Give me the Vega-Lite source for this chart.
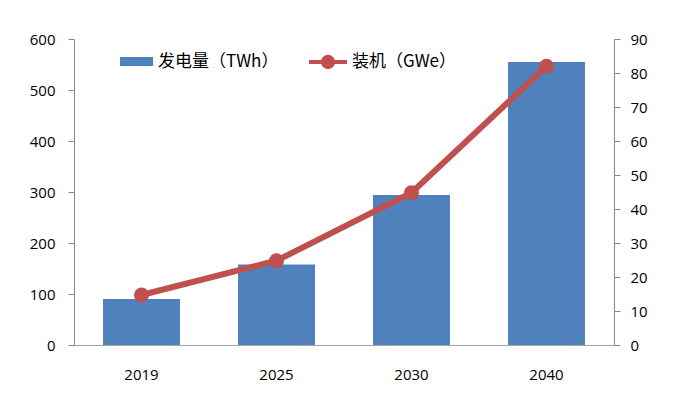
{
  "$schema": "https://vega.github.io/schema/vega-lite/v6.json",
  "width": 540,
  "height": 306,
  "autosize": {"type": "none"},
  "padding": {"left": 74, "top": 39, "right": 61, "bottom": 65},
  "background": "white",
  "config": {
    "view": {"stroke": null},
    "axis": {
      "labelFont": "Open Sans",
      "labelFontSize": 15,
      "labelColor": "#000000",
      "domainColor": "#868686",
      "tickColor": "#868686",
      "grid": false,
      "title": null
    },
    "legend": {
      "labelFont": "Noto Sans CJK SC",
      "labelFontSize": 17,
      "labelColor": "#000000",
      "title": null
    }
  },
  "data": {
    "values": [
      {"year": "2019", "gen": 90, "cap": 14.7},
      {"year": "2025", "gen": 158, "cap": 24.8},
      {"year": "2030", "gen": 294, "cap": 44.8},
      {"year": "2040", "gen": 555, "cap": 82}
    ]
  },
  "encoding": {
    "x": {
      "field": "year",
      "type": "ordinal",
      "scale": {"paddingInner": 0.43, "paddingOuter": 0.215},
      "axis": {"labelAngle": 0, "ticks": false, "labelPadding": 22, "domainColor": "#A6A6A6"}
    }
  },
  "layer": [
    {
      "mark": {"type": "bar", "color": "#4F81BD"},
      "encoding": {
        "y": {
          "field": "gen",
          "type": "quantitative",
          "scale": {"domain": [0, 600]},
          "axis": {"values": [0, 100, 200, 300, 400, 500, 600], "orient": "left", "tickSize": 6, "labelPadding": 13}
        },
        "fill": {
          "datum": "发电量（TWh）",
          "scale": {"range": ["#4F81BD"]},
          "legend": {
            "orient": "none",
            "legendX": 46,
            "legendY": 6,
            "symbolType": "M-1,-0.27H1V0.27H-1Z",
            "symbolSize": 1089,
            "symbolStrokeWidth": 0,
            "labelOffset": 5
          }
        }
      }
    },
    {
      "layer": [
        {
          "mark": {"type": "line", "strokeWidth": 6, "color": "#C0504D"},
          "encoding": {
            "stroke": {
              "datum": "装机（GWe）",
              "scale": {"range": ["#C0504D"]},
              "legend": {
                "orient": "none",
                "legendX": 233,
                "legendY": 2,
                "symbolType": "M-1,0H1M0.27,0A0.27,0.27 0 1,1 -0.27,0A0.27,0.27 0 1,1 0.27,0Z",
                "symbolSize": 1444,
                "symbolStrokeWidth": 4,
                "symbolFillColor": "#C0504D",
                "labelOffset": 3
              }
            }
          }
        },
        {
          "mark": {"type": "circle", "size": 225, "color": "#C0504D", "opacity": 1}
        }
      ],
      "encoding": {
        "y": {
          "field": "cap",
          "type": "quantitative",
          "scale": {"domain": [0, 90]},
          "axis": {"values": [0, 10, 20, 30, 40, 50, 60, 70, 80, 90], "orient": "right", "tickSize": 6, "labelPadding": 10}
        }
      }
    }
  ],
  "resolve": {"scale": {"y": "independent"}}
}
